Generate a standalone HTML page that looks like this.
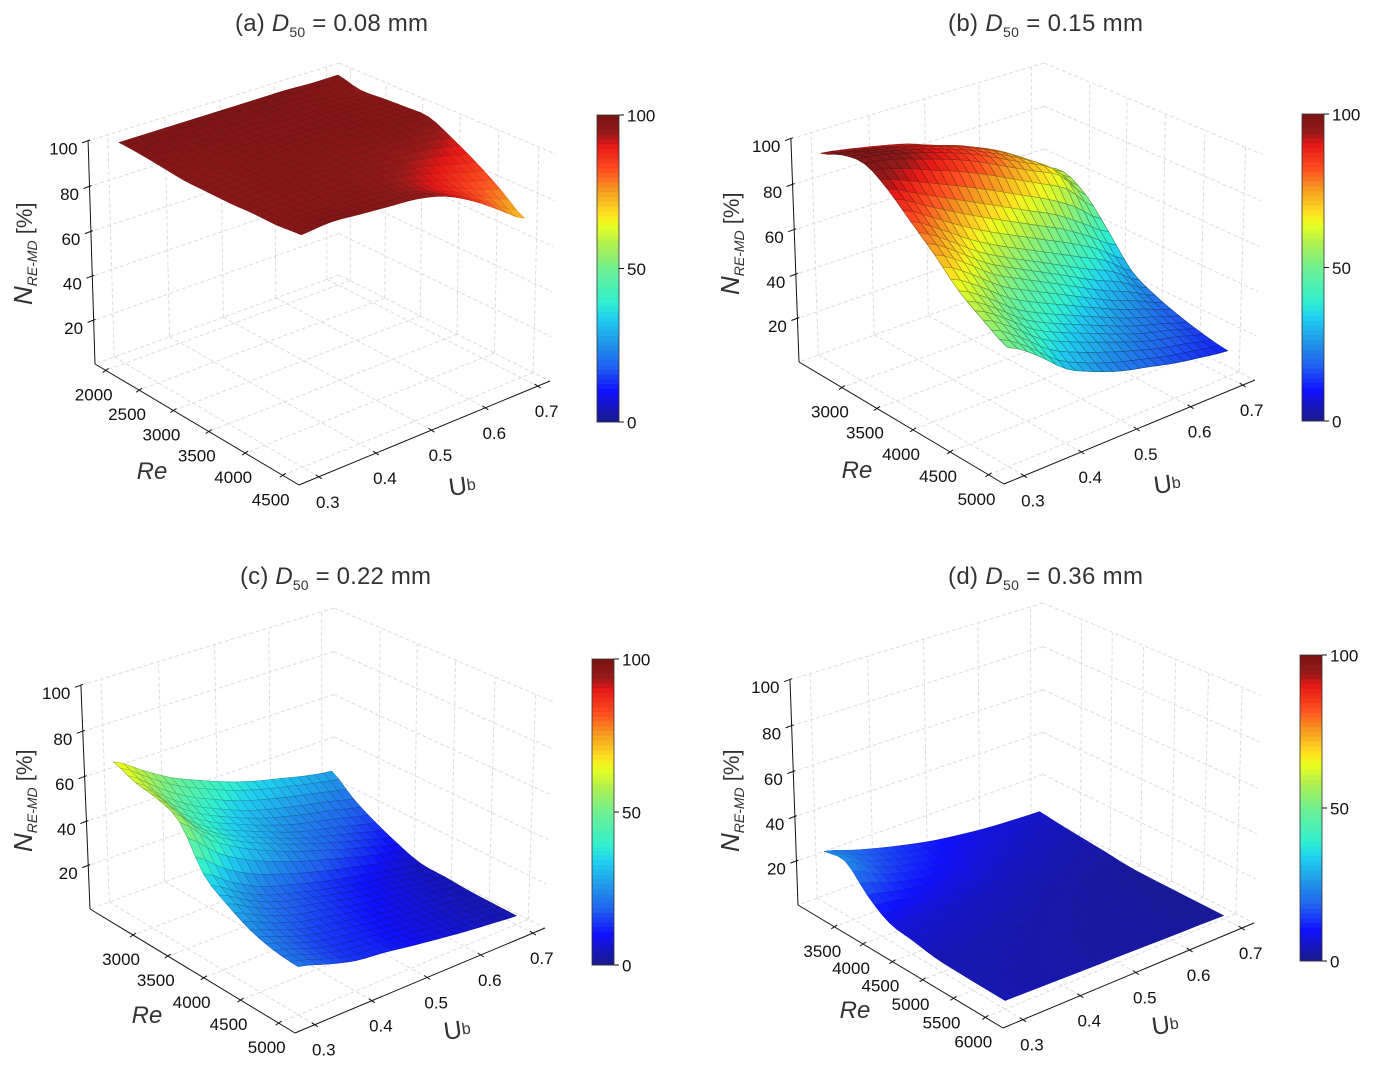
<!DOCTYPE html>
<html lang="en">
<head>
<meta charset="utf-8">
<title>Surface plots of N RE-MD against Re and Ub</title>
<style>
html,body{margin:0;padding:0;background:#fff}
svg{display:block}
text{font-family:"Liberation Sans",sans-serif}
.tick{font-size:17px;fill:#111}
.title{font-size:24px;fill:#333}
.axt{fill:#333}
</style>
</head>
<body>
<svg id="figure" xmlns="http://www.w3.org/2000/svg" width="1374" height="1066" viewBox="0 0 1374 1066">
  <rect width="1374" height="1066" fill="#fff"/>
  <g id="panel-a"></g>
  <g id="panel-b"></g>
  <g id="panel-c"></g>
  <g id="panel-d"></g>

  <text class="title" x="235" y="31" textLength="193" lengthAdjust="spacing">(a) <tspan font-style="italic">D</tspan><tspan font-size="14" dy="6">50</tspan><tspan dy="-6"> = 0.08 mm</tspan></text>
  <text class="title" x="948" y="31" textLength="195" lengthAdjust="spacing">(b) <tspan font-style="italic">D</tspan><tspan font-size="14" dy="6">50</tspan><tspan dy="-6"> = 0.15 mm</tspan></text>
  <text class="title" x="240" y="584" textLength="191" lengthAdjust="spacing">(c) <tspan font-style="italic">D</tspan><tspan font-size="14" dy="6">50</tspan><tspan dy="-6"> = 0.22 mm</tspan></text>
  <text class="title" x="948" y="584" textLength="195" lengthAdjust="spacing">(d) <tspan font-style="italic">D</tspan><tspan font-size="14" dy="6">50</tspan><tspan dy="-6"> = 0.36 mm</tspan></text>

  <text class="axt" transform="translate(32,305) rotate(-90)"><tspan font-size="26" font-style="italic">N</tspan><tspan font-size="14" font-style="italic" dy="5">RE-MD</tspan><tspan font-size="22" dy="-5"> [%]</tspan></text>
  <text class="axt" transform="translate(739,295) rotate(-90)"><tspan font-size="26" font-style="italic">N</tspan><tspan font-size="14" font-style="italic" dy="5">RE-MD</tspan><tspan font-size="22" dy="-5"> [%]</tspan></text>
  <text class="axt" transform="translate(32,852) rotate(-90)"><tspan font-size="26" font-style="italic">N</tspan><tspan font-size="14" font-style="italic" dy="5">RE-MD</tspan><tspan font-size="22" dy="-5"> [%]</tspan></text>
  <text class="axt" transform="translate(739,852) rotate(-90)"><tspan font-size="26" font-style="italic">N</tspan><tspan font-size="14" font-style="italic" dy="5">RE-MD</tspan><tspan font-size="22" dy="-5"> [%]</tspan></text>

  <text class="axt" x="152" y="479" font-size="24" font-style="italic" text-anchor="middle">Re</text>
  <text class="axt" x="857" y="478" font-size="24" font-style="italic" text-anchor="middle">Re</text>
  <text class="axt" x="147" y="1023" font-size="24" font-style="italic" text-anchor="middle">Re</text>
  <text class="axt" x="855" y="1018" font-size="24" font-style="italic" text-anchor="middle">Re</text>

  <text class="axt" transform="translate(450,496) rotate(-8)" font-size="25">U<tspan font-size="16" dy="-3">b</tspan></text>
  <text class="axt" transform="translate(1155,494) rotate(-8)" font-size="25">U<tspan font-size="16" dy="-3">b</tspan></text>
  <text class="axt" transform="translate(445,1040) rotate(-8)" font-size="25">U<tspan font-size="16" dy="-3">b</tspan></text>
  <text class="axt" transform="translate(1153,1035) rotate(-8)" font-size="25">U<tspan font-size="16" dy="-3">b</tspan></text>
</svg>

<script>
// ---- chart data ----
const ubGrid = [0.30, 0.35, 0.40, 0.45, 0.50, 0.55, 0.60, 0.65, 0.70];
const reGridA = [2000, 2312, 2625, 2938, 3250, 3562, 3875, 4188, 4500];
const reGridB = [2500, 2812, 3125, 3438, 3750, 4062, 4375, 4688, 5000];
const reGridC = [2500, 2812, 3125, 3438, 3750, 4062, 4375, 4688, 5000];
const reGridD = [3000, 3375, 3750, 4125, 4500, 4875, 5250, 5625, 6000];

// rows: Re low -> high, columns: Ub low -> high; values are N_RE-MD [%]
const surfaceA = [
  [99, 99, 99, 99, 99, 99, 99, 98.5, 98.5],
  [98.5, 98.5, 98.5, 98.5, 98.5, 98.5, 98, 97, 96],
  [97.5, 97.5, 98, 98, 98, 98, 98, 97.5, 96.5],
  [96.5, 97, 97.5, 98, 98, 98, 98, 97.5, 97],
  [96.5, 97, 97.5, 97.5, 97.5, 97.5, 97.5, 97.5, 97],
  [96.5, 97, 97.5, 97, 96.5, 96, 95.5, 94.5, 92],
  [97, 97, 97, 96.5, 96, 94.5, 92, 89, 86],
  [97, 97.5, 97, 96.5, 95, 92, 88, 83, 79],
  [98, 99, 98, 97, 96, 93, 87, 79, 71]
];
const surfaceB = [
  [93, 91, 88.5, 85.5, 81, 77, 71, 63, 56],
  [97, 95, 92.5, 89, 85, 80, 74, 66, 58],
  [98, 96, 92, 88, 83, 77, 71, 65, 52],
  [92, 86, 80, 74, 68, 62, 56, 48, 40],
  [83, 75.5, 67, 60, 54, 48, 42, 36, 27],
  [74, 66.4, 57, 50.5, 44.4, 38.2, 32, 27, 21],
  [64, 56.4, 47, 40.7, 35.3, 30, 25, 21, 17],
  [57, 49.3, 39.7, 33.8, 29, 24.4, 20.3, 17.5, 14],
  [51, 43, 32.5, 26.5, 22, 19, 16, 13.8, 12]
];
const surfaceC = [
  [66, 58, 50.5, 45, 40, 36, 33, 30, 28],
  [62, 51.5, 43, 37, 32, 28.5, 25.5, 23, 20],
  [60, 46.5, 38, 32.5, 27.5, 23, 20, 17, 14],
  [55, 43, 35, 29, 24, 20, 16, 12.5, 9.2],
  [38, 29.5, 23, 19, 15.5, 12.5, 10, 7.5, 5.5],
  [30.5, 24, 19, 16, 13, 10.5, 8.5, 6.5, 5],
  [25, 20, 16, 13.5, 11, 9, 7.2, 5.7, 4.3],
  [22, 17.7, 14, 12.2, 10, 8.2, 6.6, 5.2, 4.1],
  [21, 17, 13.5, 12, 10, 8.2, 6.5, 5.2, 4]
];
const surfaceD = [
  [23.5, 19.5, 16, 13, 10.5, 8.8, 7.5, 6.8, 6.3],
  [24.5, 17.5, 13.5, 11, 9, 7.5, 6.3, 5.5, 5],
  [14.8, 12, 9.8, 8.2, 7, 5.8, 4.9, 4.3, 4],
  [8, 7.2, 6.5, 5.8, 5.1, 4.4, 3.8, 3.3, 3],
  [6.3, 5.7, 5.1, 4.5, 4, 3.4, 2.8, 2.3, 1.8],
  [4.5, 4.3, 4, 3.6, 3.2, 2.8, 2.3, 1.9, 1.5],
  [4, 3.8, 3.5, 3.2, 2.8, 2.5, 2.1, 1.8, 1.5],
  [3.8, 3.5, 3.2, 2.9, 2.6, 2.3, 2, 1.7, 1.5],
  [3.7, 3.4, 3.1, 2.8, 2.6, 2.3, 2, 1.8, 1.5]
];

// tick labels
const ubTicks = [0.3, 0.4, 0.5, 0.6, 0.7];
const zTicks = [20, 40, 60, 80, 100];
const colorbarTicks = [0, 50, 100];
const reTicksA = [2000, 2500, 3000, 3500, 4000, 4500];
const reTicksB = [3000, 3500, 4000, 4500, 5000];
const reTicksC = [3000, 3500, 4000, 4500, 5000];
const reTicksD = [3500, 4000, 4500, 5000, 5500, 6000];

// ---- panel layout: box corners and axis limits ----
const panels = [
  { id: 'panel-a', key: 'a', surface: surfaceA, reGrid: reGridA, reTicks: reTicksA, reLim: [1836, 4713], ubLim: [0.266, 0.724],
    back0: [339, 275], back1: [339, 63], left0: [95, 364], left1: [88, 139], right0: [550, 381], right1: [556, 156], front0: [299, 485],
    bar: [597, 115, 22, 307], mesh: 0.2, meshWidth: 0.5 },
  { id: 'panel-b', key: 'b', surface: surfaceB, reGrid: reGridB, reTicks: reTicksB, reLim: [2365, 5198], ubLim: [0.266, 0.724],
    back0: [1044, 274], back1: [1044, 63], left0: [799, 362], left1: [792, 139], right0: [1255, 380], right1: [1263, 156], front0: [1004, 484],
    bar: [1302, 114, 22, 307], mesh: 0.42, meshWidth: 0.65 },
  { id: 'panel-c', key: 'c', surface: surfaceC, reGrid: reGridC, reTicks: reTicksC, reLim: [2360, 5210], ubLim: [0.266, 0.724],
    back0: [334, 820], back1: [334, 608], left0: [90, 909], left1: [82, 685], right0: [545, 928], right1: [554, 702], front0: [295, 1033],
    bar: [592, 659, 22, 306], mesh: 0.3, meshWidth: 0.55 },
  { id: 'panel-d', key: 'd', surface: surfaceD, reGrid: reGridD, reTicks: reTicksD, reLim: [2850, 6274], ubLim: [0.266, 0.724],
    back0: [1043, 816], back1: [1043, 603], left0: [798, 905], left1: [790, 679], right0: [1254, 923], right1: [1261, 696], front0: [1003, 1028],
    bar: [1300, 655, 22, 306], mesh: 0.14, meshWidth: 0.5 }
];

// colour map stops: value, r, g, b
const colorStops = [
  [0, 26, 26, 140], [5, 22, 22, 190], [10, 16, 16, 255], [18, 32, 96, 240], [25, 32, 144, 232],
  [34, 32, 208, 240], [39, 48, 240, 208], [50, 112, 240, 144], [58, 176, 240, 80], [64, 232, 255, 32],
  [68, 255, 224, 32], [76, 245, 150, 32], [82, 255, 80, 32], [90, 230, 24, 22], [94, 150, 26, 26], [100, 122, 20, 20]
];

const SVGNS = 'http://www.w3.org/2000/svg';
function svgEl(tag, attrs, parent) {
  const el = document.createElementNS(SVGNS, tag);
  for (const k in attrs) el.setAttribute(k, attrs[k]);
  parent.appendChild(el);
  return el;
}
function colorOf(v) {
  const x = Math.max(0, Math.min(100, v));
  for (let i = 1; i < colorStops.length; i++) {
    const a = colorStops[i - 1], b = colorStops[i];
    if (x <= b[0]) {
      const f = (x - a[0]) / (b[0] - a[0]);
      return 'rgb(' + Math.round(a[1] + f * (b[1] - a[1])) + ',' + Math.round(a[2] + f * (b[2] - a[2])) + ',' + Math.round(a[3] + f * (b[3] - a[3])) + ')';
    }
  }
  return 'rgb(122,20,20)';
}
// perspective box: s runs back->right (Re), t runs back->left (Ub descending), w is height
function makeProjection(p) {
  const O = p.back0, U = p.right0, V = p.left0, W = p.back1, F = p.front0;
  const a11 = U[0] - F[0], a12 = V[0] - F[0], r1 = F[0] + O[0] - U[0] - V[0];
  const a21 = U[1] - F[1], a22 = V[1] - F[1], r2 = F[1] + O[1] - U[1] - V[1];
  const det = a11 * a22 - a12 * a21;
  const a = (r1 * a22 - a12 * r2) / det;
  const b = (a11 * r2 - r1 * a21) / det;
  const L = p.left1, R = p.right1;
  // the height perspective comes from the lean of the outer verticals (x coordinates)
  const c1 = (L[0] * (1 + b) - (1 + b) * V[0] - W[0] + O[0]) / (W[0] - L[0]);
  const c2 = (R[0] * (1 + a) - (1 + a) * U[0] - W[0] + O[0]) / (W[0] - R[0]);
  const c = (c1 + c2) / 2;
  return function (s, t, w) {
    const d = 1 + a * s + b * t + c * w;
    return [
      (O[0] + s * ((1 + a) * U[0] - O[0]) + t * ((1 + b) * V[0] - O[0]) + w * ((1 + c) * W[0] - O[0])) / d,
      (O[1] + s * ((1 + a) * U[1] - O[1]) + t * ((1 + b) * V[1] - O[1]) + w * ((1 + c) * W[1] - O[1])) / d
    ];
  };
}
function catmull(p0, p1, p2, p3, f) {
  return 0.5 * (2 * p1 + (p2 - p0) * f + (2 * p0 - 5 * p1 + 4 * p2 - p3) * f * f + (3 * p1 - p0 - 3 * p2 + p3) * f * f * f);
}
// smooth rendering of the read grid (rows = Re index, cols = Ub index)
function sampleGrid(grid, ri, ci) {
  const nr = grid.length - 1, nc = grid[0].length - 1;
  const r0 = Math.min(Math.floor(ri), nr - 1), c0 = Math.min(Math.floor(ci), nc - 1);
  const fr = ri - r0, fc = ci - c0;
  const rowVals = [];
  for (let k = -1; k <= 2; k++) {
    const row = grid[Math.max(0, Math.min(nr, r0 + k))];
    rowVals.push(catmull(row[Math.max(0, c0 - 1)], row[c0], row[c0 + 1], row[Math.min(nc, c0 + 2)], fc));
  }
  return catmull(rowVals[0], rowVals[1], rowVals[2], rowVals[3], fr);
}
function ptsAttr(list) {
  return list.map(function (q) { return q[0].toFixed(1) + ',' + q[1].toFixed(1); }).join(' ');
}

const MESH_PER_CELL = 3;

function drawPanel(p) {
  const root = document.getElementById(p.id);
  const proj = makeProjection(p);
  const sOf = function (re) { return (re - p.reLim[0]) / (p.reLim[1] - p.reLim[0]); };
  const tOf = function (ub) { return (p.ubLim[1] - ub) / (p.ubLim[1] - p.ubLim[0]); };
  const wOf = function (n) { return n / 100; };

  // dashed grid on walls and floor
  const grid = svgEl('g', { fill: 'none', stroke: '#d9d9d9', 'stroke-width': 0.9, 'stroke-dasharray': '4 2.5' }, root);
  
  
  function gridLine(a, b, name) {
    const pa = proj(a[0], a[1], a[2]), pb = proj(b[0], b[1], b[2]);
    const el = svgEl('line', { x1: pa[0].toFixed(1), y1: pa[1].toFixed(1), x2: pb[0].toFixed(1), y2: pb[1].toFixed(1) }, grid);
    
    
  }
  ubTicks.forEach(function (ub) {
    const t = tOf(ub);
    gridLine([0, t, 0], [1, t, 0], 'floor-gridline-ub');
    gridLine([0, t, 0], [0, t, 1], 'wall-gridline-ub');
  });
  p.reTicks.forEach(function (re) {
    const s = sOf(re);
    gridLine([s, 0, 0], [s, 1, 0], 'floor-gridline-re');
    gridLine([s, 0, 0], [s, 0, 1], 'wall-gridline-re');
  });
  [0].concat(zTicks).forEach(function (z) {
    const w = wOf(z);
    gridLine([0, 0, w], [0, 1, w], 'left-wall-gridline-z');
    gridLine([0, 0, w], [1, 0, w], 'right-wall-gridline-z');
  });

  // axes
  const axes = svgEl('g', { stroke: '#111', 'stroke-width': 1, fill: 'none' }, root);
  
  
  const zBase = proj(0, 1, 0), zTop = proj(0, 1, 1);
  const zAxis = svgEl('line', { x1: zBase[0].toFixed(1), y1: zBase[1].toFixed(1), x2: zTop[0].toFixed(1), y2: zTop[1].toFixed(1) }, axes);
  
  
  const reAxis = svgEl('line', { x1: p.left0[0], y1: p.left0[1], x2: p.front0[0], y2: p.front0[1] }, axes);
  
  
  const ubAxis = svgEl('line', { x1: p.front0[0], y1: p.front0[1], x2: p.right0[0], y2: p.right0[1] }, axes);
  
  

  function tickMark(pt, dx0, dy0, dx1, dy1, name) {
    const el = svgEl('line', { x1: (pt[0] + dx0).toFixed(1), y1: (pt[1] + dy0).toFixed(1), x2: (pt[0] + dx1).toFixed(1), y2: (pt[1] + dy1).toFixed(1) }, axes);
    
    
  }
  function tickLabel(pt, dx, dy, anchor, label, name) {
    const el = svgEl('text', { class: 'tick', x: (pt[0] + dx).toFixed(1), y: (pt[1] + dy).toFixed(1), 'text-anchor': anchor }, root);
    el.textContent = label;
    
    
  }
  zTicks.forEach(function (z) {
    const pt = proj(0, 1, wOf(z));
    tickMark(pt, -6, 2, 2, -1, 'z-tick');
    tickLabel(pt, -10.5, 13.5, 'end', String(z), 'z-tick-label');
  });
  p.reTicks.forEach(function (re) {
    const pt = proj(sOf(re), 1, 0);
    tickMark(pt, -3, 2, 3, -2, 're-tick');
    tickLabel(pt, -12, 30, 'middle', String(re), 're-tick-label');
  });
  ubTicks.forEach(function (ub) {
    const pt = proj(1, tOf(ub), 0);
    tickMark(pt, -3, -2, 3, 2, 'ub-tick');
    tickLabel(pt, 9, 31, 'middle', ub.toFixed(1), 'ub-tick-label');
  });

  // surface: painter's order from the far corner (low Re, high Ub) to the near one
  const surf = svgEl('g', { 'stroke-width': p.meshWidth }, root);
  
  
  const nr = (p.surface.length - 1) * MESH_PER_CELL, nc = (p.surface[0].length - 1) * MESH_PER_CELL;
  const lastR = p.reGrid.length - 1, lastC = ubGrid.length - 1;
  function vertex(i, j) {
    const ri = i / MESH_PER_CELL, ci = j / MESH_PER_CELL;
    const re = p.reGrid[0] + (p.reGrid[lastR] - p.reGrid[0]) * ri / lastR;
    const ub = ubGrid[0] + (ubGrid[lastC] - ubGrid[0]) * ci / lastC;
    const n = sampleGrid(p.surface, ri, ci);
    return { n: n, pt: proj(sOf(re), tOf(ub), wOf(n)) };
  }
  const verts = [];
  for (let i = 0; i <= nr; i++) {
    verts.push([]);
    for (let j = 0; j <= nc; j++) verts[i].push(vertex(i, j));
  }
  for (let i = 0; i < nr; i++) {
    for (let j = nc - 1; j >= 0; j--) {
      const a = verts[i][j], b = verts[i][j + 1], c = verts[i + 1][j + 1], d = verts[i + 1][j];
      const col = colorOf((a.n + b.n + c.n + d.n) / 4);
      const under = svgEl('polygon', { points: ptsAttr([a.pt, b.pt, c.pt, d.pt]), fill: col, stroke: col }, surf);
      
      
      const cell = svgEl('polygon', { points: ptsAttr([a.pt, b.pt, c.pt, d.pt]), fill: 'none', stroke: '#141414', 'stroke-opacity': p.mesh }, surf);
      
      
    }
  }

  // colour bar
  const bx = p.bar[0], by = p.bar[1], bw = p.bar[2], bh = p.bar[3];
  const bar = svgEl('g', {}, root);
  
  
  const levels = 64;
  for (let k = 0; k < levels; k++) {
    const v = (k + 0.5) / levels * 100;
    const seg = svgEl('rect', { x: bx, y: (by + bh - (k + 1) / levels * bh).toFixed(2), width: bw, height: (bh / levels + 0.4).toFixed(2), fill: colorOf(v) }, bar);
    
    
  }
  const frame = svgEl('rect', { x: bx, y: by, width: bw, height: bh, fill: 'none', stroke: '#333', 'stroke-width': 0.8 }, bar);
  
  
  colorbarTicks.forEach(function (v) {
    const y = by + bh - v / 100 * bh;
    const tk = svgEl('line', { x1: bx + bw, y1: y, x2: bx + bw + 5, y2: y, stroke: '#111', 'stroke-width': 1 }, bar);
    
    
    const lb = svgEl('text', { class: 'tick', x: bx + bw + 8, y: y + 6.5 }, bar);
    lb.textContent = String(v);
    
    
  });
}
panels.forEach(drawPanel);
</script>
</body>
</html>
